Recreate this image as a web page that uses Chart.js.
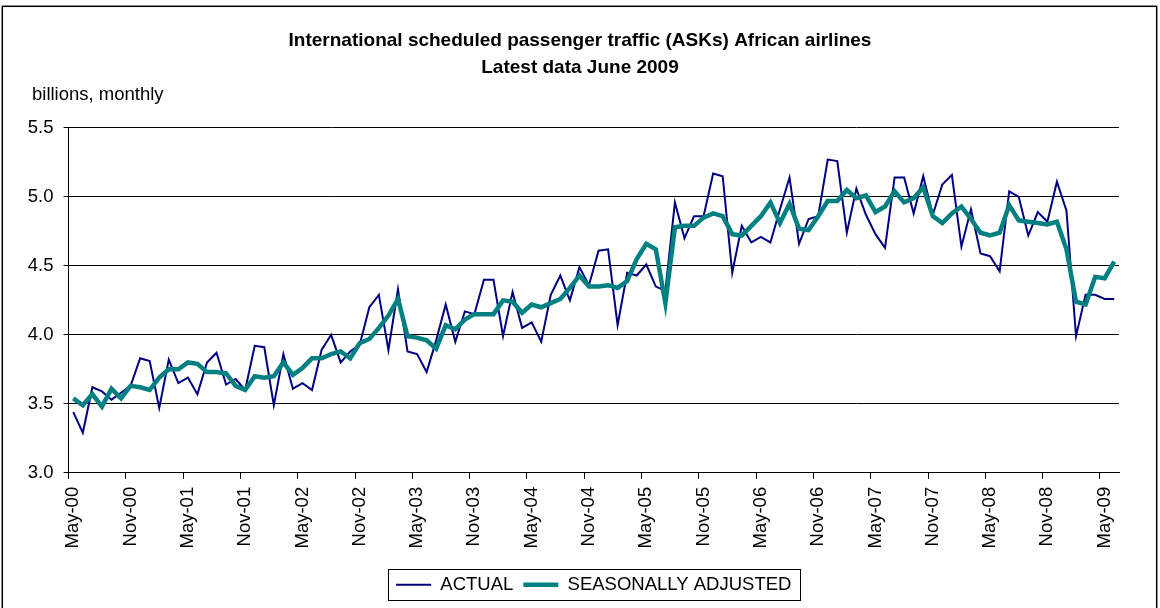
<!DOCTYPE html>
<html>
<head>
<meta charset="utf-8">
<script src="https://cdn.jsdelivr.net/npm/chart.js@4.4.1/dist/chart.umd.min.js"></script>
<style>
  html, body { margin: 0; padding: 0; background: #fff; }
  #wrap { width: 1160px; height: 608px; }
</style>
</head>
<body>
<div id="wrap"><canvas id="chart" width="1160" height="608"></canvas></div>
<script>
const categories = [
  'May-00', 'Jun-00', 'Jul-00', 'Aug-00', 'Sep-00', 'Oct-00', 'Nov-00', 'Dec-00',
  'Jan-01', 'Feb-01', 'Mar-01', 'Apr-01', 'May-01', 'Jun-01', 'Jul-01', 'Aug-01', 'Sep-01', 'Oct-01', 'Nov-01', 'Dec-01',
  'Jan-02', 'Feb-02', 'Mar-02', 'Apr-02', 'May-02', 'Jun-02', 'Jul-02', 'Aug-02', 'Sep-02', 'Oct-02', 'Nov-02', 'Dec-02',
  'Jan-03', 'Feb-03', 'Mar-03', 'Apr-03', 'May-03', 'Jun-03', 'Jul-03', 'Aug-03', 'Sep-03', 'Oct-03', 'Nov-03', 'Dec-03',
  'Jan-04', 'Feb-04', 'Mar-04', 'Apr-04', 'May-04', 'Jun-04', 'Jul-04', 'Aug-04', 'Sep-04', 'Oct-04', 'Nov-04', 'Dec-04',
  'Jan-05', 'Feb-05', 'Mar-05', 'Apr-05', 'May-05', 'Jun-05', 'Jul-05', 'Aug-05', 'Sep-05', 'Oct-05', 'Nov-05', 'Dec-05',
  'Jan-06', 'Feb-06', 'Mar-06', 'Apr-06', 'May-06', 'Jun-06', 'Jul-06', 'Aug-06', 'Sep-06', 'Oct-06', 'Nov-06', 'Dec-06',
  'Jan-07', 'Feb-07', 'Mar-07', 'Apr-07', 'May-07', 'Jun-07', 'Jul-07', 'Aug-07', 'Sep-07', 'Oct-07', 'Nov-07', 'Dec-07',
  'Jan-08', 'Feb-08', 'Mar-08', 'Apr-08', 'May-08', 'Jun-08', 'Jul-08', 'Aug-08', 'Sep-08', 'Oct-08', 'Nov-08', 'Dec-08',
  'Jan-09', 'Feb-09', 'Mar-09', 'Apr-09', 'May-09', 'Jun-09'
];

const tickLabels = [
  'May-00', 'Nov-00', 'May-01', 'Nov-01', 'May-02', 'Nov-02', 'May-03', 'Nov-03', 'May-04', 'Nov-04',
  'May-05', 'Nov-05', 'May-06', 'Nov-06', 'May-07', 'Nov-07', 'May-08', 'Nov-08', 'May-09'
];

const yTicks = [3.0, 3.5, 4.0, 4.5, 5.0, 5.5];

// billions of ASKs, monthly
const actual = [
  3.44, 3.29, 3.62, 3.59, 3.53, 3.58, 3.63, 3.83, 3.81, 3.47,
  3.82, 3.65, 3.69, 3.57, 3.80, 3.87, 3.64, 3.68, 3.60, 3.92,
  3.91, 3.49, 3.86, 3.61, 3.65, 3.60, 3.89, 4.00, 3.80, 3.88,
  3.93, 4.20, 4.29, 3.89, 4.33, 3.88, 3.86, 3.73, 3.96, 4.22,
  3.95, 4.17, 4.15, 4.40, 4.40, 3.99, 4.31, 4.05, 4.09, 3.95,
  4.29, 4.43, 4.25, 4.49, 4.36, 4.61, 4.62, 4.07, 4.45, 4.43,
  4.51, 4.35, 4.32, 4.96, 4.70, 4.86, 4.86, 5.17, 5.15, 4.45,
  4.79, 4.67, 4.71, 4.67, 4.91, 5.14, 4.66, 4.84, 4.86, 5.27,
  5.26, 4.74, 5.06, 4.87, 4.73, 4.63, 5.14, 5.14, 4.88, 5.15,
  4.87, 5.09, 5.16, 4.64, 4.91, 4.59, 4.57, 4.46, 5.04, 5.00,
  4.72, 4.89, 4.82, 5.11, 4.90, 3.99, 4.29, 4.29, 4.26, 4.26
];

const adjusted = [
  3.54, 3.49, 3.57, 3.48, 3.61, 3.54, 3.63, 3.62, 3.60, 3.69,
  3.75, 3.75, 3.80, 3.79, 3.73, 3.73, 3.72, 3.63, 3.60, 3.70,
  3.69, 3.70, 3.80, 3.71, 3.76, 3.83, 3.83, 3.86, 3.88, 3.83,
  3.94, 3.97, 4.05, 4.14, 4.26, 3.99, 3.98, 3.96, 3.90, 4.07,
  4.04, 4.11, 4.15, 4.15, 4.15, 4.25, 4.24, 4.16, 4.22, 4.20,
  4.23, 4.26, 4.34, 4.43, 4.35, 4.35, 4.36, 4.34, 4.39, 4.55,
  4.66, 4.62, 4.23, 4.78, 4.79, 4.79, 4.85, 4.88, 4.86, 4.73,
  4.72, 4.79, 4.86, 4.96, 4.81, 4.95, 4.77, 4.76, 4.86, 4.97,
  4.97, 5.05, 4.99, 5.01, 4.89, 4.93, 5.04, 4.96, 4.99, 5.07,
  4.86, 4.81, 4.88, 4.93, 4.84, 4.74, 4.72, 4.74, 4.94, 4.83,
  4.82, 4.81, 4.80, 4.82, 4.62, 4.24, 4.22, 4.42, 4.41, 4.53
];

const FONT = "'Liberation Sans', Arial, sans-serif";
Chart.defaults.font.family = FONT;
Chart.defaults.font.size = 18.5;
Chart.defaults.color = '#000';

// white page with the thin outer frame
const frame = {
  id: 'frame',
  beforeDraw(chart) {
    const ctx = chart.ctx;
    ctx.save();
    ctx.fillStyle = '#fff';
    ctx.fillRect(0, 0, chart.width, chart.height);
    ctx.strokeStyle = '#000';
    ctx.lineWidth = 1.5;
    ctx.strokeRect(2.3, 6.3, 1154.4, 640);
    ctx.restore();
  }
};

// unit text above the y axis
const unitLabel = {
  id: 'unitLabel',
  afterDraw(chart) {
    const ctx = chart.ctx;
    ctx.save();
    ctx.font = '18.5px ' + FONT;
    ctx.fillStyle = '#000';
    ctx.textAlign = 'left';
    ctx.textBaseline = 'alphabetic';
    ctx.fillText('billions, monthly', 32, 100);
    ctx.restore();
  }
};

// box around the legend entries
const legendBox = {
  id: 'legendBox',
  afterDraw(chart) {
    const boxes = chart.legend.legendHitBoxes;
    if (!boxes || !boxes.length) return;
    const first = boxes[0];
    const last = boxes[boxes.length - 1];
    const x0 = first.left - 8;
    const x1 = last.left + last.width + 9;
    const y0 = first.top - 7;
    const y1 = first.top + first.height + 5;
    const ctx = chart.ctx;
    ctx.save();
    ctx.strokeStyle = '#000';
    ctx.lineWidth = 1;
    ctx.strokeRect(Math.round(x0) + 0.5, Math.round(y0) + 0.5, Math.round(x1 - x0), Math.round(y1 - y0));
    ctx.restore();
  }
};

const data = {
  labels: categories,
  datasets: [
    {
      label: 'ACTUAL',
      data: actual,
      borderColor: '#000080',
      backgroundColor: '#000080',
      borderWidth: 2,
      pointRadius: 0,
      tension: 0,
      order: 2
    },
    {
      label: 'SEASONALLY ADJUSTED',
      data: adjusted,
      borderColor: '#008080',
      backgroundColor: '#008080',
      borderWidth: 4.5,
      pointRadius: 0,
      tension: 0,
      order: 1
    }
  ]
};

const config = {
  type: 'line',
  data: data,
  options: {
    responsive: false,
    animation: false,
    devicePixelRatio: 1,
    layout: {
      padding: { left: 27, right: 27, top: 0, bottom: 4 }
    },
    plugins: {
      title: {
        display: true,
        text: ['International scheduled passenger traffic (ASKs) African airlines', 'Latest data June 2009'],
        font: { size: 19, weight: 'bold', lineHeight: 1.4 },
        color: '#000',
        padding: { top: 27.7, bottom: 47 }
      },
      legend: {
        position: 'bottom',
        fullSize: false,
        labels: {
          usePointStyle: true,
          pointStyle: 'line',
          pointStyleWidth: 35,
          padding: 10,
          color: '#000',
          font: { size: 18.5 },
          sort: (a, b) => a.datasetIndex - b.datasetIndex
        }
      },
      tooltip: { enabled: false }
    },
    scales: {
      x: {
        type: 'category',
        offset: true,
        afterFit(scale) { scale.height = 92.7; },
        grid: {
          offset: true,
          drawOnChartArea: false,
          drawTicks: true,
          tickLength: 6,
          tickColor: (ctx) => tickLabels.includes(categories[ctx.index]) ? '#000' : 'rgba(0,0,0,0)',
          color: 'rgba(0,0,0,0)'
        },
        border: { display: true, color: '#000', width: 1 },
        ticks: {
          autoSkip: false,
          minRotation: 90,
          maxRotation: 90,
          padding: 8,
          color: '#000',
          font: { size: 18.5 },
          callback: (value, index) => tickLabels.includes(categories[index]) ? categories[index] : ''
        }
      },
      y: {
        min: yTicks[0],
        max: yTicks[yTicks.length - 1],
        afterFit(scale) { scale.width = 41.5; },
        afterBuildTicks(scale) { scale.ticks = yTicks.map(v => ({ value: v })); },
        grid: {
          color: '#000',
          lineWidth: 1,
          drawTicks: true,
          tickLength: 5,
          tickColor: '#000'
        },
        border: { display: true, color: '#000', width: 1 },
        ticks: {
          padding: 10,
          color: '#000',
          font: { size: 18.5 },
          callback: (v) => Number(v).toFixed(1)
        }
      },
      // empty spacer on the right so the plot ends where the reference does
      yRight: {
        position: 'right',
        display: true,
        afterFit(scale) { scale.width = 14; },
        grid: { display: false },
        border: { display: false },
        ticks: { display: false }
      }
    }
  },
  plugins: [frame, unitLabel, legendBox]
};

const chart = new Chart(document.getElementById('chart'), config);
</script>
</body>
</html>
